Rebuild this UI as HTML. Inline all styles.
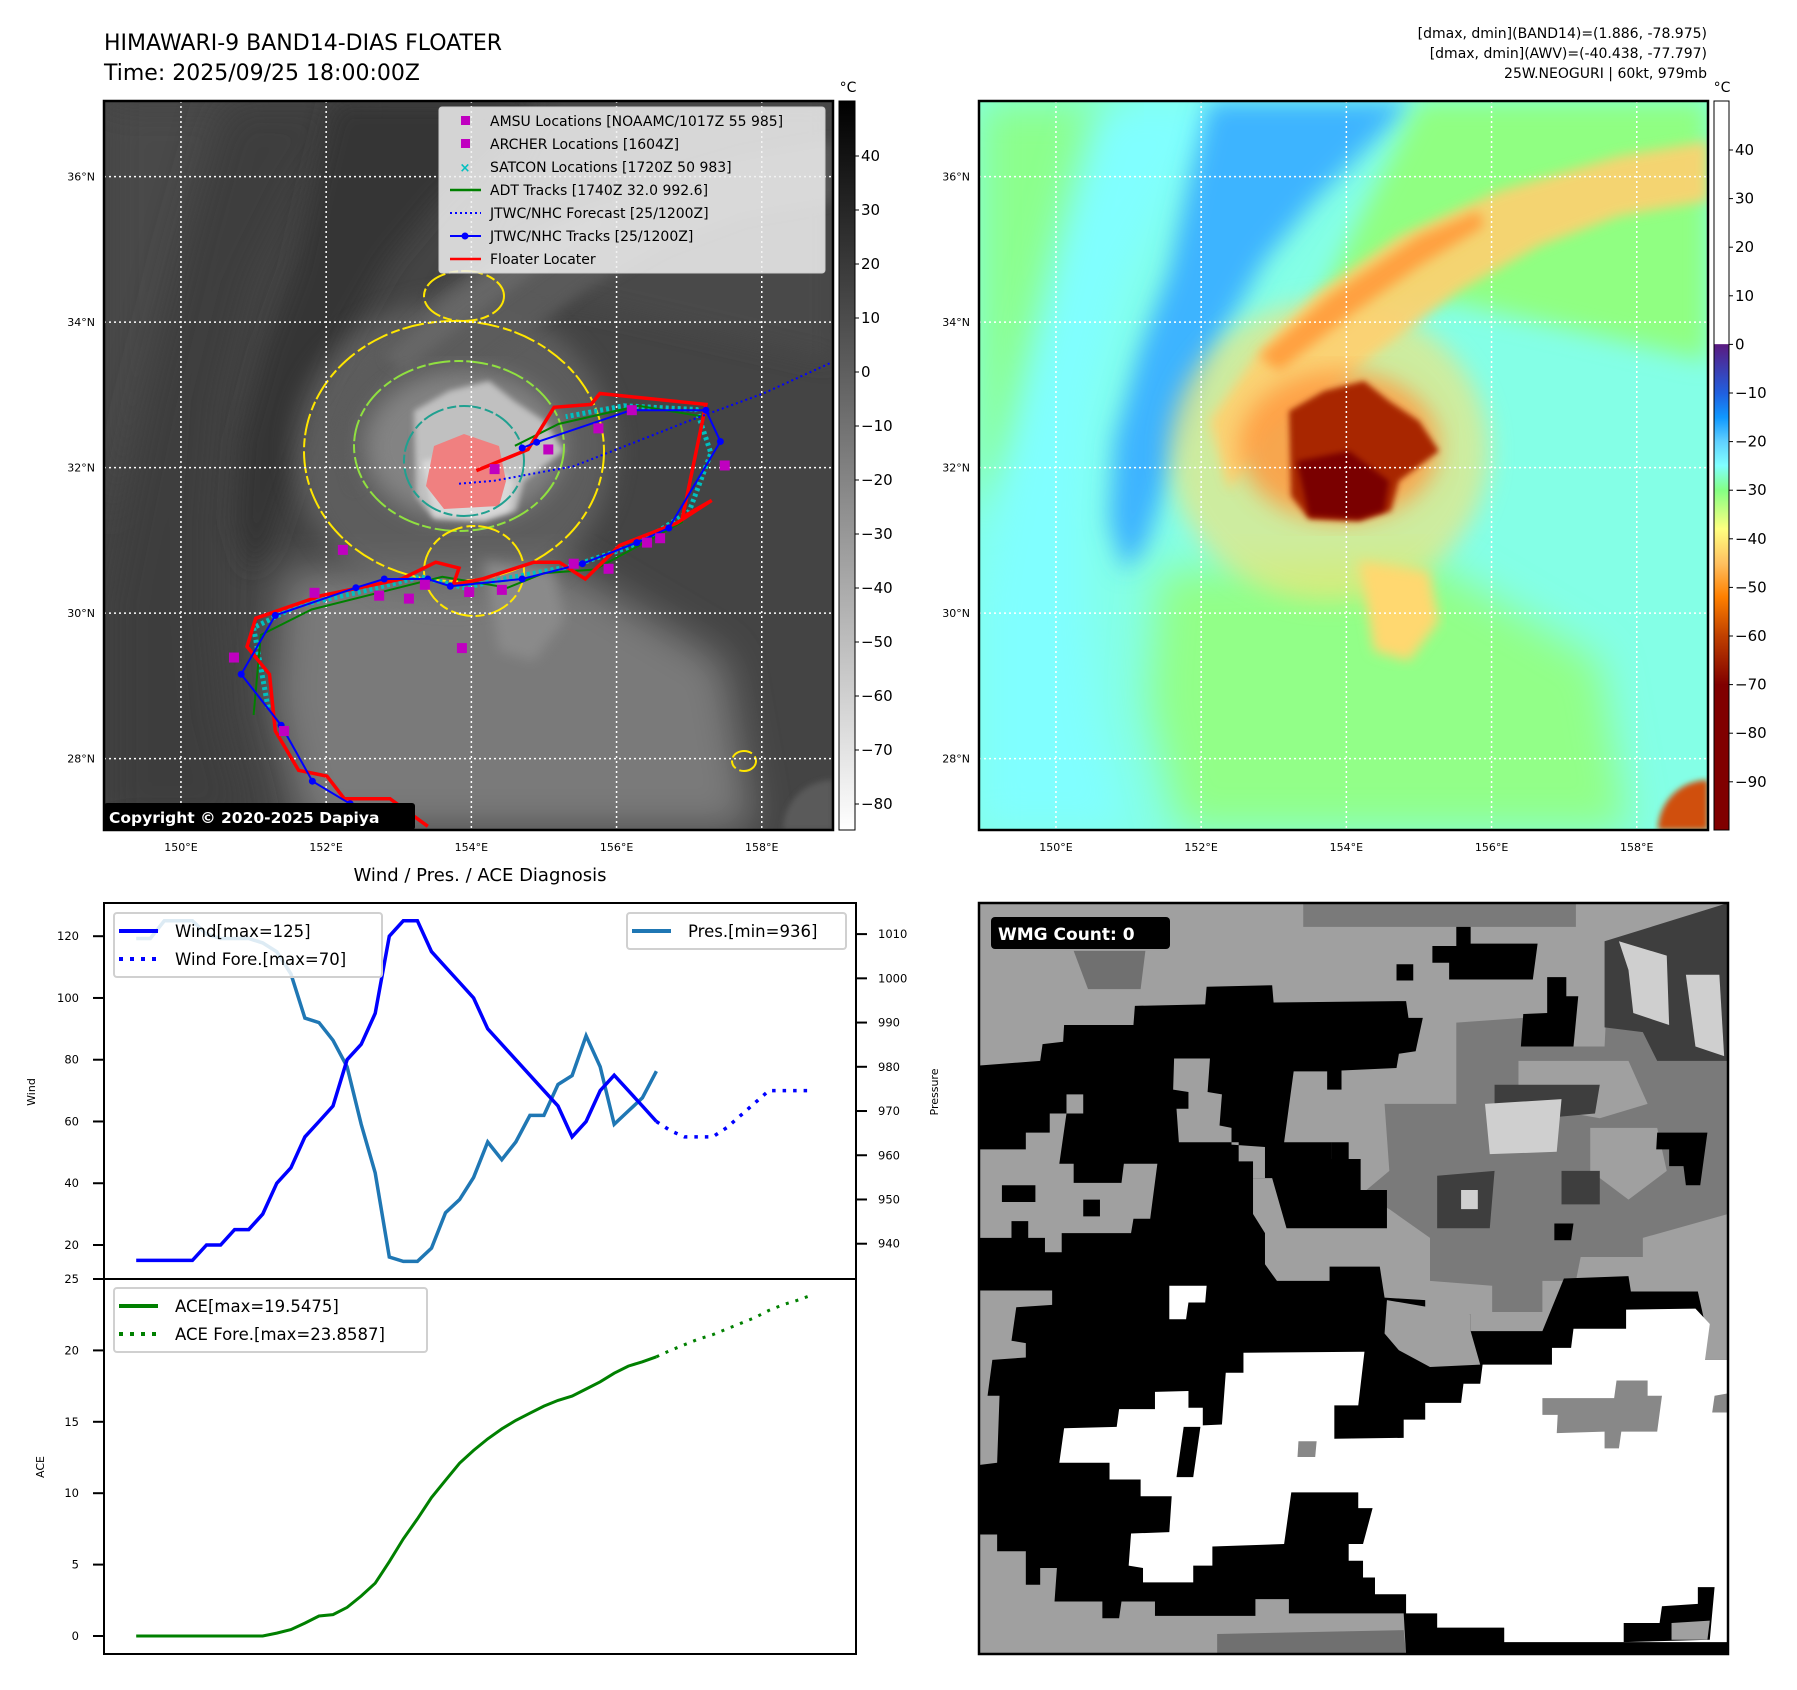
<!DOCTYPE html>
<html><head><meta charset="utf-8"><title>HIMAWARI-9 Dashboard</title>
<style>
html,body{margin:0;padding:0;background:#fff;}
svg{display:block;font-family:"DejaVu Sans","Liberation Sans",sans-serif;}
</style></head>
<body>
<svg id="root" width="1797" height="1690" viewBox="0 0 1797 1690" xmlns="http://www.w3.org/2000/svg">
<defs>
<clipPath id="mapclip"><rect x="0" y="0" width="729" height="729"/></clipPath>
<clipPath id="wmgclip"><rect x="0" y="0" width="1568" height="1572"/></clipPath>
<filter id="b3"><feGaussianBlur stdDeviation="3"/></filter>
<filter id="b6"><feGaussianBlur stdDeviation="6"/></filter>
<filter id="b12"><feGaussianBlur stdDeviation="12"/></filter>
<filter id="b20"><feGaussianBlur stdDeviation="20"/></filter>
<linearGradient id="grayCb" x1="0" y1="0" x2="0" y2="1">
<stop offset="0" stop-color="#000"/><stop offset="1" stop-color="#fff"/>
</linearGradient>
<linearGradient id="rainCb" x1="0" y1="0" x2="0" y2="1">
<stop offset="0" stop-color="#fff"/><stop offset="0.333" stop-color="#fff"/>
<stop offset="0.334" stop-color="#5a1a80"/><stop offset="0.401" stop-color="#2060e0"/>
<stop offset="0.434" stop-color="#1098ff"/><stop offset="0.467" stop-color="#60d0ff"/>
<stop offset="0.500" stop-color="#80ffff"/><stop offset="0.534" stop-color="#84ff84"/>
<stop offset="0.587" stop-color="#ffff80"/><stop offset="0.634" stop-color="#ffc060"/>
<stop offset="0.680" stop-color="#ff8000"/><stop offset="0.734" stop-color="#c04000"/>
<stop offset="0.801" stop-color="#800000"/><stop offset="1" stop-color="#800000"/>
</linearGradient>
</defs>

<text x="104" y="50" font-size="22" fill="#000">HIMAWARI-9 BAND14-DIAS FLOATER</text>
<text x="104" y="80" font-size="22" fill="#000">Time: 2025/09/25 18:00:00Z</text>
<g font-size="14" text-anchor="end" fill="#000">
<text x="1707" y="38">[dmax, dmin](BAND14)=(1.886, -78.975)</text>
<text x="1707" y="58">[dmax, dmin](AWV)=(-40.438, -77.797)</text>
<text x="1707" y="78">25W.NEOGURI | 60kt, 979mb</text>
</g>

<g id="leftMap" transform="translate(104,101)">
<g clip-path="url(#mapclip)" id="leftInner"></g>
<rect x="0" y="0" width="729" height="729" fill="none" stroke="#000" stroke-width="2.5"/>
</g>
<g id="rightMap" transform="translate(979,101)">
<g clip-path="url(#mapclip)" id="rightInner"></g>
<rect x="0" y="0" width="729" height="729" fill="none" stroke="#000" stroke-width="2.5"/>
</g>

<g>
<rect x="839" y="101" width="16" height="729" fill="url(#grayCb)" stroke="#000" stroke-width="1"/>
<text x="848" y="92" font-size="14" text-anchor="middle">°C</text>
<g id="cbLeftLabels" font-size="15"></g>
</g>
<g>
<rect x="1714" y="101" width="15" height="729" fill="url(#rainCb)" stroke="#000" stroke-width="1"/>
<text x="1722" y="92" font-size="14" text-anchor="middle">°C</text>
<g id="cbRightLabels" font-size="15"></g>
</g>

<text x="480" y="881" font-size="18" text-anchor="middle">Wind / Pres. / ACE Diagnosis</text>
<g id="diag"></g>

<g transform="translate(978,903) scale(0.4783,0.4784)">
<g clip-path="url(#wmgclip)" id="wmg"></g>
</g>
<rect x="979" y="903" width="749" height="751" fill="none" stroke="#000" stroke-width="2.5"/>
<rect x="991" y="917" width="179" height="32" rx="4" fill="#000"/>
<text x="998" y="940" font-size="17" font-weight="bold" fill="#fff">WMG Count: 0</text>
</svg>

<script>
// ===== Chart data (diagnosis) =====
const windObs = [15,15,15,15,15,20,20,25,25,30,40,45,55,60,65,80,85,95,120,125,125,115,110,105,100,90,85,80,75,70,65,55,60,70,75,70,65,60];
const windFore = [60,57,55,55,55,58,62,66,70,70,70,70];
const presObs = [1009,1009,1013,1013,1013,1010,1009,1009,1009,1008,1006,1001,991,990,986,980,967,956,937,936,936,939,947,950,955,963,959,963,969,969,976,978,987,980,967,970,973,979];
const aceObs = [0,0,0,0,0,0,0,0,0,0,0.2,0.45,0.9,1.4,1.5,2.0,2.8,3.7,5.2,6.8,8.2,9.7,10.9,12.1,13.0,13.8,14.5,15.1,15.6,16.1,16.5,16.8,17.3,17.8,18.4,18.9,19.2,19.55];
const aceFore = [19.55,20.0,20.4,20.8,21.1,21.5,21.9,22.3,22.8,23.2,23.5,23.86];
const windTicks = [20,40,60,80,100,120];
const presTicks = [940,950,960,970,980,990,1000,1010];
const aceTicks = [0,5,10,15,20,25];

// ===== Map data (lon/lat) =====
const jtwcLon = [152.33,151.81,151.38,150.83,151.30,152.41,152.80,153.40,153.71,154.70,155.53,156.28,156.72,157.43,157.23,156.20,154.90,154.70];
const jtwcLat = [27.38,27.69,28.46,29.16,29.97,30.35,30.47,30.47,30.37,30.47,30.68,30.97,31.17,32.36,32.79,32.79,32.35,32.27];
const foreLon = [153.83,154.31,155.41,156.20,156.99,158.02,158.97];
const foreLat = [31.78,31.82,32.02,32.33,32.64,33.02,33.45];
const floaterLon = [153.40,152.88,152.25,152.01,151.62,151.30,151.22,150.91,151.03,151.93,153.04,153.51,153.83,153.75,154.15,154.86,155.21,155.57,156.04,156.83,157.31,156.91,157.23,155.77,155.65,155.14,154.78,154.07];
const floaterLat = [27.07,27.45,27.45,27.76,27.84,28.38,29.16,29.54,29.93,30.24,30.47,30.70,30.62,30.39,30.47,30.70,30.70,30.47,30.93,31.24,31.55,31.32,32.87,33.02,32.87,32.83,32.25,31.96];
const adtLon = [151.0,151.1,151.8,152.8,153.6,154.5,155.0,155.7,156.9,157.2,156.3,155.2,154.6];
const adtLat = [28.6,29.7,30.05,30.3,30.5,30.35,30.55,30.6,31.25,32.7,32.85,32.6,32.3];
const satconLon = [151.2,151.0,151.6,152.5,153.3,153.9,154.6,155.4,156.3,157.0,157.3,157.1,156.1,155.3];
const satconLat = [28.7,29.8,30.1,30.3,30.5,30.35,30.5,30.65,30.95,31.4,32.2,32.8,32.85,32.7];
const amsuLon = [152.23,151.84,152.73,153.14,153.36,153.97,154.42,153.87,154.32,155.06,155.75,156.21,157.49,156.42,156.60,155.89,155.41,150.73,151.42];
const amsuLat = [30.87,30.28,30.24,30.20,30.39,30.29,30.32,29.52,31.98,32.25,32.54,32.79,32.03,30.97,31.03,30.61,30.68,29.39,28.38];
const gridLons = [150,152,154,156,158];
const gridLats = [28,30,32,34,36];
const grayCbTicks = [40,30,20,10,0,-10,-20,-30,-40,-50,-60,-70,-80];
const rainCbTicks = [40,30,20,10,0,-10,-20,-30,-40,-50,-60,-70,-80,-90];

const NS = "http://www.w3.org/2000/svg";
function mk(tag, attrs, parent){const e=document.createElementNS(NS,tag);for(const k in attrs)e.setAttribute(k,attrs[k]);if(parent)parent.appendChild(e);return e;}

function px(lon){return (lon-148.94)*72.6;}
function py(lat){return (37.04-lat)*72.75;}
function ptsLL(lons,lats){return lons.map((l,i)=>px(l).toFixed(1)+","+py(lats[i]).toFixed(1)).join(" ");}

const shapes = [
 {d:"M0,0H729V729H0Z",r:"#84ffe6",l:"#444",f:""},
 {d:"M0,0L150,0L100,150L50,330L0,420Z",r:"#8cff8c",l:"#484848",f:"b20"},
 {d:"M120,0L260,0L200,80L150,180L120,300L110,420L110,520L120,620L150,729L0,729L0,500L40,300L80,140Z",r:"#80ffff",l:"#3e3e3e",f:"b20"},
 {d:"M230,0L435,0L395,40L335,100L285,160L245,230L215,300L188,380L165,450L145,470L130,420L135,340L160,250L190,170L210,80Z",r:"#3cb4ff",l:"#353535",f:"b12"},
 {d:"M440,0L729,0L729,260L600,230L470,200L330,220Z",r:"#90ff82",l:"#484848",f:"b12"},
 {d:"M180,470L450,460L620,560L650,729L200,729L170,600Z",r:"#92ff88",l:"#7a7a7a",f:"b20"},
 {d:"M190,350A160,150 0 1,0 510,350A160,150 0 1,0 190,350Z",r:"#ffe070",l:"#6e6e6e",f:"b12",o:0.6},
 {d:"M230,320L280,250L340,190L420,135L520,90L640,55L729,40L729,100L640,115L560,145L480,190L420,235L360,280L290,330L250,390Z",r:"#ffd070",l:"#5c5c5c",f:"b6",o:0.9},
 {d:"M280,255L350,195L440,135L500,110L505,125L440,165L370,215L300,270Z",r:"#ffa040",l:"#666",f:"b6"},
 {d:"M260,345A100,75 0 1,0 460,345A100,75 0 1,0 260,345Z",r:"#ff9a40",l:"#8a8a8a",f:"b12",o:0.85},
 {d:"M310,310L345,290L385,280L410,300L440,320L460,350L420,380L412,410L380,420L330,418L312,395Z",r:"#a82800",l:"#c0c0c0",f:"b3"},
 {d:"M318,360L370,350L410,380L405,410L380,418L330,415Z",r:"#7a0000",l:"#d8d8d8",f:"b3"},
 {d:"M380,460L450,470L460,520L430,560L395,550Z",r:"#ffd870",l:"#8a8a8a",f:"b6"},
 {d:"M679,729A50,50 0 0,1 729,679L729,729Z",r:"#d05010",l:"#5a5a5a",f:"b3"}
];
const L=document.getElementById("leftInner"), R=document.getElementById("rightInner");
shapes.forEach((s,i)=>{
 const a={d:s.d,fill:s.l};if(s.f)a.filter="url(#"+s.f+")";if(s.o)a.opacity=s.o;
 const e1=mk("path",a,L);
 
 
 const b={d:s.d,fill:s.r};if(s.f)b.filter="url(#"+s.f+")";if(s.o)b.opacity=s.o;
 const e2=mk("path",b,R);
 
 
});

const core=mk("path",{d:"M330,345L360,333L395,345L402,380L395,405L340,408L322,385Z",fill:"#f08080"},L);


[[350,350,150,130,"#ffe600",2],[355,345,105,85,"#90e040",2],[360,360,60,55,"#20a090",2],[360,195,40,25,"#ffe600",2],[370,470,50,45,"#ffe600",2],[640,660,12,10,"#ffe600",2]].forEach(c=>{
 const e=mk("ellipse",{cx:c[0],cy:c[1],rx:c[2],ry:c[3],fill:"none",stroke:c[4],"stroke-width":c[5],"stroke-dasharray":"22,4,9,3"},L);
 
 
});

[L,R].forEach(g=>{
 gridLons.forEach(v=>{const e=mk("line",{x1:px(v),x2:px(v),y1:0,y2:729,stroke:"#fff","stroke-width":1.5,"stroke-dasharray":"2,3"},g);
  
  });
 gridLats.forEach(v=>{const e=mk("line",{y1:py(v),y2:py(v),x1:0,x2:729,stroke:"#fff","stroke-width":1.5,"stroke-dasharray":"2,3"},g);
  
  });
});

let e;
e=mk("polyline",{points:ptsLL(satconLon,satconLat),fill:"none",stroke:"#00c0c0","stroke-width":5,"stroke-dasharray":"3,3"},L);


e=mk("polyline",{points:ptsLL(adtLon,adtLat),fill:"none",stroke:"#008000","stroke-width":2},L);


e=mk("polyline",{points:ptsLL(floaterLon,floaterLat),fill:"none",stroke:"#ff0000","stroke-width":3.5,"stroke-linejoin":"miter"},L);


e=mk("polyline",{points:ptsLL(foreLon,foreLat),fill:"none",stroke:"#0000ff","stroke-width":2,"stroke-dasharray":"2,3"},L);


e=mk("polyline",{points:ptsLL(jtwcLon,jtwcLat),fill:"none",stroke:"#0000ff","stroke-width":2},L);


jtwcLon.forEach((l,i)=>{const c=mk("circle",{cx:px(l),cy:py(jtwcLat[i]),r:3.5,fill:"#0000ff"},L);
 
 });
amsuLon.forEach((l,i)=>{const c=mk("rect",{x:px(l)-5,y:py(amsuLat[i])-5,width:10,height:10,fill:"#c000c0"},L);
 
 });

(function(){
 const g=mk("g",{},document.getElementById("leftMap"));
 
 
 mk("rect",{x:335,y:6,width:386,height:166,rx:3,fill:"rgba(240,240,240,0.85)",stroke:"#ccc"},g);
 const items=[["sq","#c000c0","AMSU Locations [NOAAMC/1017Z 55 985]"],["sq","#c000c0","ARCHER Locations [1604Z]"],["x","#00c0c0","SATCON Locations [1720Z 50 983]"],["line","#008000","ADT Tracks [1740Z 32.0 992.6]"],["dot","#0000ff","JTWC/NHC Forecast [25/1200Z]"],["ldot","#0000ff","JTWC/NHC Tracks [25/1200Z]"],["line","#ff0000","Floater Locater"]];
 items.forEach((it,i)=>{
  const y=20+i*23;
  if(it[0]=="sq")mk("rect",{x:357,y:y-5,width:9,height:9,fill:it[1]},g);
  if(it[0]=="x"){const t=mk("text",{x:361,y:y+5,"font-size":13,"font-weight":"bold","text-anchor":"middle",fill:it[1]},g);t.textContent="×";}
  if(it[0]=="line")mk("line",{x1:346,x2:377,y1:y,y2:y,stroke:it[1],"stroke-width":2.5},g);
  if(it[0]=="dot")mk("line",{x1:346,x2:377,y1:y,y2:y,stroke:it[1],"stroke-width":2,"stroke-dasharray":"2,3"},g);
  if(it[0]=="ldot"){mk("line",{x1:346,x2:377,y1:y,y2:y,stroke:it[1],"stroke-width":2},g);mk("circle",{cx:361,cy:y,r:3.5,fill:it[1]},g);}
  const t=mk("text",{x:386,y:y+5,"font-size":14,fill:"#000"},g);t.textContent=it[2];
  
  
 });
 const cb=mk("rect",{x:0,y:702,width:311,height:27,rx:3,fill:"#000"},document.getElementById("leftMap"));
 
 
 const ct=mk("text",{x:5,y:722,"font-size":15.5,"font-weight":"bold",fill:"#fff"},document.getElementById("leftMap"));
 ct.textContent="Copyright © 2020-2025 Dapiya";
 
 
})();

const root=document.getElementById("root");
[104,979].forEach(ox=>{
 gridLons.forEach(v=>{const t=mk("text",{x:ox+px(v),y:851,"font-size":11,"text-anchor":"middle"},root);t.textContent=v+"°E";
  
  });
 gridLats.forEach(v=>{const t=mk("text",{x:ox-9,y:101+py(v)+4,"font-size":11,"text-anchor":"end"},root);t.textContent=v+"°N";
  
  });
});
function cbL(v){return 156+(40-v)*5.4;}
function cbR(v){return 344.4-v*4.86;}
grayCbTicks.forEach(v=>{const g=document.getElementById("cbLeftLabels");
 mk("line",{x1:855,x2:859,y1:cbL(v),y2:cbL(v),stroke:"#000"},g);
 const t=mk("text",{x:861,y:cbL(v)+5},g);t.textContent=(v<0?"\u2212"+(-v):v);
 
 });
rainCbTicks.forEach(v=>{const g=document.getElementById("cbRightLabels");
 mk("line",{x1:1729,x2:1733,y1:cbR(v),y2:cbR(v),stroke:"#000"},g);
 const t=mk("text",{x:1735,y:cbR(v)+5},g);t.textContent=(v<0?"\u2212"+(-v):v);
 
 });

(function(){
 const g=document.getElementById("diag");
 function xS(i){return 136.2+i*14.06;}
 function yW(v){return 936.2+(120-v)*3.088;}
 function yP(v){return 934.1+(1010-v)*4.423;}
 function yA(v){return 1636-v*14.28;}
 function poly(vals,off,ys){return vals.map((v,i)=>xS(i+off).toFixed(1)+","+ys(v).toFixed(1)).join(" ");}
 mk("rect",{x:104,y:903,width:752,height:751,fill:"#fff"},g);
 let p;
 p=mk("polyline",{points:poly(presObs,0,yP),fill:"none",stroke:"#1f77b4","stroke-width":3.5},g);
 
 
 p=mk("polyline",{points:poly(windObs,0,yW),fill:"none",stroke:"#0000ff","stroke-width":3.5},g);
 
 
 p=mk("polyline",{points:poly(windFore,windObs.length-1,yW),fill:"none",stroke:"#0000ff","stroke-width":3.5,"stroke-dasharray":"3.5,7"},g);
 
 
 p=mk("polyline",{points:poly(aceObs,0,yA),fill:"none",stroke:"#008000","stroke-width":3},g);
 
 
 p=mk("polyline",{points:poly(aceFore,aceObs.length-1,yA),fill:"none",stroke:"#008000","stroke-width":3,"stroke-dasharray":"3,7"},g);
 
 
 mk("rect",{x:104,y:903,width:752,height:751,fill:"none",stroke:"#000","stroke-width":2},g);
 mk("line",{x1:104,x2:856,y1:1279,y2:1279,stroke:"#000","stroke-width":2},g);
 windTicks.forEach(v=>{mk("line",{x1:93,x2:104,y1:yW(v),y2:yW(v),stroke:"#000","stroke-width":2},g);
  const t=mk("text",{x:79,y:yW(v)+4,"font-size":11.5,"text-anchor":"end"},g);t.textContent=v;
  
  });
 presTicks.forEach(v=>{mk("line",{x1:856,x2:867,y1:yP(v),y2:yP(v),stroke:"#000","stroke-width":2},g);
  const t=mk("text",{x:878,y:yP(v)+4,"font-size":11.5},g);t.textContent=v;
  
  });
 aceTicks.forEach(v=>{mk("line",{x1:93,x2:104,y1:yA(v),y2:yA(v),stroke:"#000","stroke-width":2},g);
  const t=mk("text",{x:79,y:yA(v)+4,"font-size":11.5,"text-anchor":"end"},g);t.textContent=v;
  
  });
 let t;
 t=mk("text",{x:0,y:0,"font-size":11,"text-anchor":"middle",transform:"translate(35,1092) rotate(-90)"},g);t.textContent="Wind";
 
 
 t=mk("text",{x:0,y:0,"font-size":11,"text-anchor":"middle",transform:"translate(938,1092) rotate(-90)"},g);t.textContent="Pressure";
 
 
 t=mk("text",{x:0,y:0,"font-size":11,"text-anchor":"middle",transform:"translate(44,1467) rotate(-90)"},g);t.textContent="ACE";
 
 
 function legend(x,y,w,h,rows,name){
  const lg=mk("g",{},g);
  
  
  mk("rect",{x:x,y:y,width:w,height:h,rx:3,fill:"rgba(255,255,255,0.85)",stroke:"#d0d0d0","stroke-width":2},lg);
  rows.forEach((r,i)=>{const yy=y+18+i*28;
   const a={x1:x+5,x2:x+44,y1:yy,y2:yy,stroke:r[0],"stroke-width":4};if(r[1])a["stroke-dasharray"]="4,7";
   mk("line",a,lg);
   const tt=mk("text",{x:x+61,y:yy+6,"font-size":16.5},lg);tt.textContent=r[2];});
 }
 legend(114,913,268,64,[["#0000ff",0,"Wind[max=125]"],["#0000ff",1,"Wind Fore.[max=70]"]],"wind-legend");
 legend(627,913,219,36,[["#1f77b4",0,"Pres.[min=936]"]],"pressure-legend");
 legend(114,1288,313,64,[["#008000",0,"ACE[max=19.5475]"],["#008000",1,"ACE Fore.[max=23.8587]"]],"ace-legend");
})();

const wmgPolys = [
 ["#a0a0a0","0,0 1568,0 1568,1572 0,1572"],
 ["#7a7a7a","850,420 1000,420 1000,250 1140,240 1140,300 1310,300 1320,100 1568,60 1568,650 1390,700 1390,740 1260,740 1250,790 1180,790 1180,855 1075,855 1075,800 945,790 945,700 860,640 800,610 860,560"],
 ["#a0a0a0","1130,330 1360,330 1400,420 1300,450 1130,420"],
 ["#a0a0a0","1280,470 1420,470 1440,560 1360,620 1280,560"],
 ["#7a7a7a","680,0 1250,0 1250,50 680,50"],
 ["#707070","200,100 350,100 340,180 230,180"],
 ["#3e3e3e","1310,80 1568,0 1568,330 1420,330 1390,270 1310,260"],
 ["#cfcfcf","1340,80 1440,110 1445,255 1370,230 1360,140"],
 ["#cfcfcf","1480,150 1550,150 1560,320 1500,300"],
 ["#3e3e3e","1080,380 1300,380 1290,440 1180,450 1080,450"],
 ["#3e3e3e","960,570 1080,560 1070,680 960,680"],
 ["#cfcfcf","1010,600 1045,600 1045,640 1010,640"],
 ["#cfcfcf","1060,420 1220,410 1210,520 1070,525"],
 ["#3e3e3e","1220,560 1300,560 1300,630 1220,630"],
 ["#000","0,410 0,340 130,330 135,295 178,290 180,255 325,255 328,215 475,212 478,175 615,172 618,208 895,205 900,240 930,240 915,310 880,315 875,345 760,350 760,390 730,390 730,352 660,352 640,500 740,500 740,535 800,535 800,600 855,600 855,680 645,680 615,575 575,575 575,650 600,690 600,755 625,790 735,790 735,760 840,760 850,825 935,830 935,860 1030,860 1030,895 1180,895 1225,785 1360,780 1365,812 1505,812 1520,880 1520,955 1568,955 1568,1572 0,1572"],
 ["#a0a0a0","0,515 100,515 100,480 150,480 150,440 185,440 185,400 220,400 220,440 185,440 170,545 200,545 200,585 300,585 305,545 375,545 360,660 325,660 320,690 175,690 175,730 140,730 140,700 105,700 105,665 70,665 70,700 0,700"],
 ["#000","50,590 120,590 120,625 50,625"],
 ["#000","220,620 255,620 255,655 220,655"],
 ["#a0a0a0","410,325 485,325 480,395 510,400 505,465 530,470 530,505 600,510 600,575 575,575 575,540 545,540 545,500 420,500 415,430 440,430 440,395 408,390"],
 ["#a0a0a0","0,810 155,810 155,840 80,845 70,915 100,920 100,950 30,955 20,1030 45,1030 40,1170 0,1175"],
 ["#a0a0a0","855,830 1030,860 1030,895 1050,965 945,970 880,935 850,900"],
 ["#a0a0a0","0,1320 40,1320 40,1355 100,1355 100,1425 130,1425 130,1390 165,1390 160,1460 260,1460 260,1495 295,1495 300,1460 370,1460 370,1490 580,1490 580,1455 650,1455 650,1485 890,1485 895,1572 0,1572"],
 ["#707070","500,1528 890,1520 895,1572 500,1572"],
 ["#fff","400,800 478,800 475,835 440,835 435,870 400,870"],
 ["#fff","555,940 808,938 795,1050 745,1050 745,1120 890,1118 890,1080 935,1080 935,1045 1010,1045 1015,1005 1050,1005 1055,965 1200,965 1200,930 1240,930 1245,890 1355,890 1355,850 1500,848 1530,880 1520,955 1568,955 1568,1545 1100,1545 1100,1515 960,1515 960,1485 895,1485 895,1445 830,1445 830,1410 805,1410 805,1375 775,1375 775,1340 805,1340 825,1265 795,1265 795,1232 655,1232 640,1340 490,1345 490,1385 450,1385 450,1420 345,1420 345,1390 315,1385 320,1318 400,1315 405,1240 340,1240 340,1205 275,1205 275,1170 170,1170 180,1098 290,1095 295,1058 370,1058 370,1022 440,1020 440,1055 470,1055 470,1092 510,1090 518,982 555,982"],
 ["#000","430,1095 465,1095 450,1200 415,1200"],
 ["#888","670,1125 708,1125 705,1158 668,1158"],
 ["#888","1180,1035 1330,1035 1335,998 1400,998 1400,1030 1430,1030 1420,1105 1345,1105 1340,1140 1310,1140 1310,1105 1210,1108 1212,1070 1180,1070"],
 ["#888","1540,1030 1568,1025 1568,1065 1535,1065"],
 ["#000","1350,1505 1425,1505 1430,1470 1505,1465 1505,1430 1540,1430 1530,1540 1350,1545"],
 ["#000","960,1515 1100,1515 1100,1550 960,1550"],
 ["#000","875,128 910,128 910,162 875,162"],
 ["#000","950,90 1000,90 1000,50 1030,50 1030,85 1170,85 1160,160 985,160 985,125 950,125"],
 ["#000","1190,155 1230,155 1230,195 1255,195 1245,300 1135,300 1140,232 1190,230"],
 ["#000","1420,480 1525,480 1510,590 1480,590 1475,550 1445,550 1445,515 1418,515"],
 ["#000","1205,670 1245,670 1240,705 1205,705"],
 ["#000","740,500 775,500 775,535 740,535"],
 ["#a0a0a0","1450,1505 1530,1500 1525,1540 1450,1540"]
];
const W=document.getElementById("wmg");
wmgPolys.forEach(p=>{const e=mk("polygon",{points:p[1],fill:p[0]},W);
 
 });
</script>
</body></html>
